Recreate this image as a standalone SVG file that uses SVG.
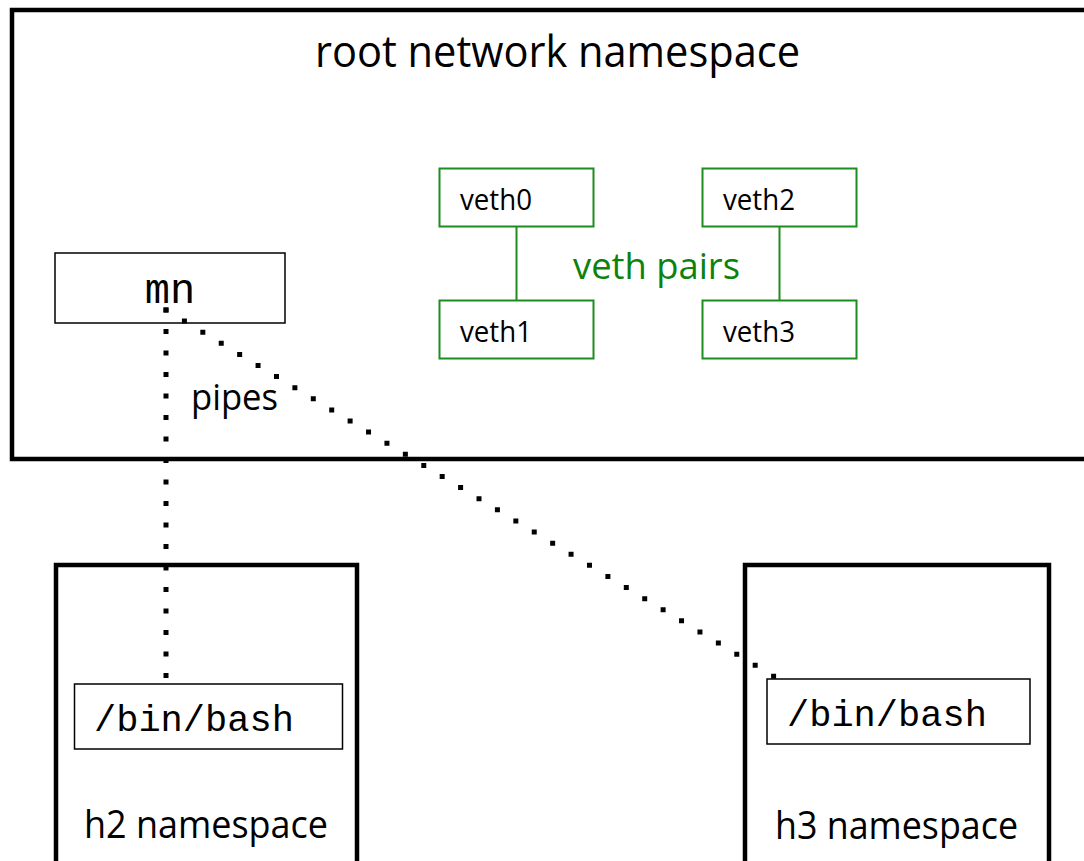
<svg xmlns="http://www.w3.org/2000/svg" width="1084" height="861" viewBox="0 0 1084 861">
  <style>
    .ns { fill: #ffffff; stroke: #000000; stroke-width: 4.5; }
    .proc { fill: #ffffff; stroke: #000000; stroke-width: 1.5; }
    .veth { fill: #ffffff; stroke: #1e8c1e; stroke-width: 2; }
    .link { stroke: #1e8c1e; stroke-width: 2; fill: none; }
    .pipe { stroke: #000000; stroke-width: 5; fill: none; stroke-linecap: square; stroke-dasharray: 0 21.5; }
    .sans { font-family: "Open Sans", "Noto Sans", "Liberation Sans", sans-serif; fill: #000000; }
    .mono { font-family: "Liberation Mono", "Courier New", monospace; fill: #000000; }
    .green { fill: #0d820d; }
  </style>

  <rect width="1084" height="861" fill="#ffffff"/>

  <!-- namespaces -->
  <g id="root-ns">
    <rect class="ns" x="12" y="10" width="1100" height="449"/>
    <text class="sans" x="315" y="67" font-size="43" textLength="485" lengthAdjust="spacingAndGlyphs">root network namespace</text>
  </g>

  <g id="h2-ns">
    <rect class="ns" x="56" y="565" width="301" height="299"/>
    <text class="sans" x="84" y="838" font-size="38" textLength="244" lengthAdjust="spacingAndGlyphs">h2 namespace</text>
  </g>

  <g id="h3-ns">
    <rect class="ns" x="745" y="565" width="304" height="299"/>
    <text class="sans" x="775" y="839" font-size="38" textLength="243" lengthAdjust="spacingAndGlyphs">h3 namespace</text>
  </g>

  <!-- processes -->
  <g id="mn">
    <rect class="proc" x="55" y="253" width="230" height="70"/>
    <text class="mono" x="170" y="303" font-size="42" text-anchor="middle">mn</text>
  </g>

  <g id="h2-bash">
    <rect class="proc" x="74.5" y="684" width="268" height="65"/>
    <text class="mono" x="94" y="731" font-size="37">/bin/bash</text>
  </g>

  <g id="h3-bash">
    <rect class="proc" x="767" y="679" width="263" height="65"/>
    <text class="mono" x="787" y="726" font-size="37">/bin/bash</text>
  </g>

  <!-- veth interfaces -->
  <g id="veth0">
    <rect class="veth" x="439.5" y="168.5" width="154" height="58"/>
    <text class="sans" x="460" y="210" font-size="29" textLength="72" lengthAdjust="spacingAndGlyphs">veth0</text>
  </g>
  <g id="veth1">
    <rect class="veth" x="439.5" y="300.5" width="154" height="58"/>
    <text class="sans" x="460" y="342" font-size="29" textLength="72" lengthAdjust="spacingAndGlyphs">veth1</text>
  </g>
  <g id="veth2">
    <rect class="veth" x="702.5" y="168.5" width="154" height="58"/>
    <text class="sans" x="723" y="210" font-size="29" textLength="72" lengthAdjust="spacingAndGlyphs">veth2</text>
  </g>
  <g id="veth3">
    <rect class="veth" x="702.5" y="300.5" width="154" height="58"/>
    <text class="sans" x="723" y="342" font-size="29" textLength="72" lengthAdjust="spacingAndGlyphs">veth3</text>
  </g>

  <!-- connectors -->
  <g id="connectors">
    <line class="link" x1="516.5" y1="226.5" x2="516.5" y2="300.5"/>
    <line class="link" x1="779.5" y1="226.5" x2="779.5" y2="300.5"/>
    <line class="pipe" x1="166" y1="310" x2="166" y2="676"/>
    <line class="pipe" x1="166" y1="310" x2="778" y2="679"/>
  </g>

  <!-- labels -->
  <g id="labels">
    <text class="sans green" x="573" y="279" font-size="36" textLength="167" lengthAdjust="spacingAndGlyphs">veth pairs</text>
    <text class="sans" x="191" y="410" font-size="37" textLength="87" lengthAdjust="spacingAndGlyphs">pipes</text>
  </g>
</svg>
